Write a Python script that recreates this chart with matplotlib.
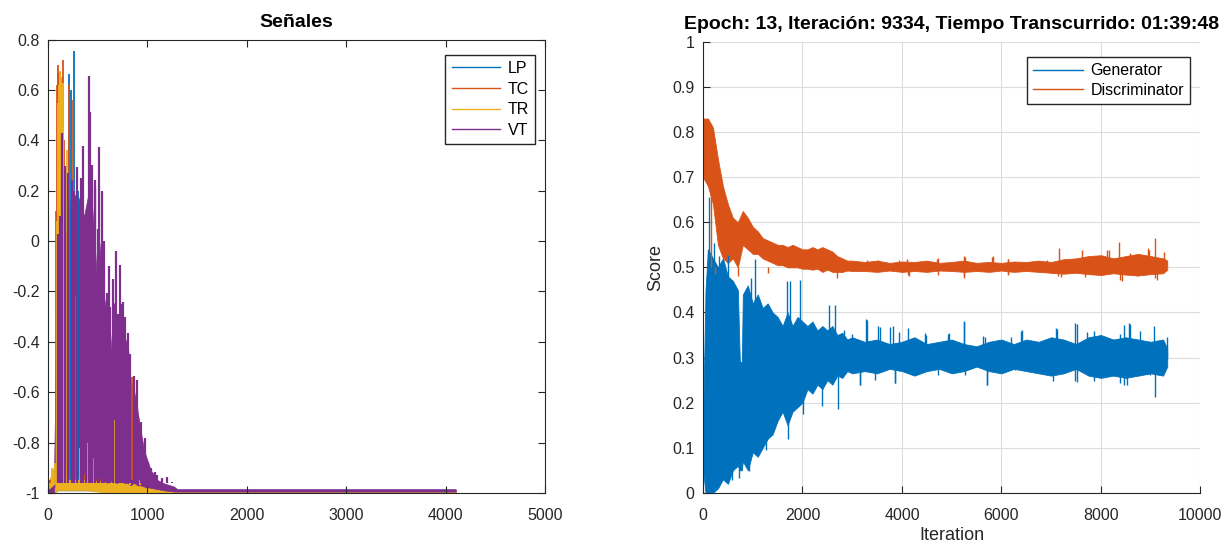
import numpy as np
import matplotlib
matplotlib.use("Agg")
import matplotlib.pyplot as plt

plt.rcParams['font.family'] = ['Liberation Sans', 'DejaVu Sans']
plt.rcParams['axes.unicode_minus'] = False

# ---- left panel: signals (band = dense core, spikes = tall strokes) ----
LP_x = [0, 60, 100, 400, 800, 1000, 1100, 4100]
LP_hi = [-0.98, -0.95, -0.9, -0.9, -0.92, -0.95, -0.99, -0.99]
LP_lo = [-1.0, -1.0, -0.99, -0.99, -1.0, -1.0, -1.0, -1.0]
LP_spk_x = [150, 211, 231, 262, 305, 330, 540, 720]
LP_spk_y = [0.1, 0.664, 0.6, 0.754, 0.2, -0.1, -0.9, -0.92]

TC_x = [0, 50, 80, 300, 600, 900, 1000, 1100, 4100]
TC_hi = [-0.96, -0.92, -0.85, -0.85, -0.88, -0.92, -0.97, -0.99, -0.99]
TC_lo = [-1.0, -1.0, -0.97, -0.97, -0.98, -0.99, -1.0, -1.0, -1.0]
TC_spk_x = [20, 77, 92, 98, 104, 110, 128, 140, 148, 160, 171, 215, 255, 272, 355, 433, 540,
            590, 724, 841, 892]
TC_spk_y = [-0.96, 0.12, 0.62, 0.7, 0.667, 0.5, 0.55, 0.65, 0.72, 0.4, 0.24, 0.62, 0.56, -0.22,
            -0.54, -0.62, -0.8, -0.72, -0.76, -0.54, -0.84]

TR_x = [0, 60, 100, 250, 400, 600, 900, 1050, 1200, 4100]
TR_hi = [-0.97, -0.9, -0.92, -0.94, -0.95, -0.955, -0.96, -0.975, -0.99, -0.99]
TR_lo = [-1.0, -1.0, -0.99, -0.99, -0.99, -1.0, -1.0, -1.0, -1.0, -1.0]
TR_spk_x = [37, 70, 87, 105, 112, 118, 120, 125, 131, 140, 147, 154, 160, 165, 188, 255, 322,
            389, 456, 624, 674, 724, 825, 926]
TR_spk_y = [-0.9, -0.88, 0.08, 0.55, 0.62, 0.67, 0.674, 0.5, 0.65, 0.6, 0.45, 0.63, 0.3, 0.2,
            0.36, -0.84, -0.82, -0.8, -0.86, -0.86, -0.71, -0.87, -0.92, -0.95]

VT_x = [0, 60, 94, 161, 228, 295, 362, 429, 463, 496, 530, 563, 597, 631, 664, 698, 731, 765,
        798, 832, 865, 899, 932, 966, 1033, 1100, 1167, 1268, 1300, 4100]
VT_hi = [-0.99, -0.97, -0.087, -0.035, 0.164, 0.19, 0.098, 0.23, 0.032, -0.167, -0.008, -0.22,
         -0.3, -0.432, -0.246, -0.326, -0.26, -0.432, -0.379, -0.565, -0.591, -0.67, -0.75,
         -0.83, -0.909, -0.949, -0.962, -0.975, -0.985, -0.985]
VT_lo = [-1.0, -1.0, -0.85, -0.88, -0.9, -0.93, -0.92, -0.94, -0.93, -0.95, -0.94, -0.95, -0.96,
         -0.95, -0.96, -0.96, -0.95, -0.96, -0.96, -0.97, -0.96, -0.97, -0.97, -0.975, -0.98,
         -0.985, -0.99, -0.995, -0.995, -0.995]
VT_spk_x = [104, 120, 138, 170, 205, 238, 260, 288, 330, 355, 380, 412, 422, 439, 470, 473, 500,
            516, 540, 560, 590, 610, 624, 650, 684, 708, 724, 740, 758, 780, 801, 830, 869, 892,
            900, 940, 976, 1010, 1040, 1077, 1100, 1150, 1194, 1244]
VT_spk_y = [0.03, 0.1, 0.429, 0.3, 0.27, 0.244, 0.2, 0.296, 0.25, 0.379, 0.1, 0.657, 0.511, 0.303,
            0.22, 0.244, 0.05, 0.372, 0.2, 0.0, -0.207, -0.1, -0.26, -0.15, -0.041, -0.29, -0.096,
            -0.25, -0.24, -0.3, -0.366, -0.45, -0.536, -0.66, -0.55, -0.72, -0.783, -0.876, -0.9,
            -0.916, -0.93, -0.94, -0.936, -0.956]

# ---- right panel: training scores ----
G_x = [0, 50, 100, 200, 300, 400, 500, 600, 700, 740, 780, 800, 900, 1000, 1100, 1200, 1300,
       1400, 1500, 1600, 1700, 1800, 1900, 2000, 2100, 2200, 2300, 2400, 2500, 2600, 2700, 2800,
       2900, 3000, 3250, 3500, 3750, 4000, 4250, 4500, 4750, 5000, 5250, 5500, 5750, 6000, 6250,
       6500, 6750, 7000, 7250, 7500, 7750, 8000, 8250, 8500, 8750, 9000, 9250, 9334]
G_hi = [0.15, 0.45, 0.54, 0.52, 0.5, 0.52, 0.48, 0.47, 0.45, 0.29, 0.29, 0.44, 0.46, 0.42, 0.44,
        0.41, 0.42, 0.40, 0.39, 0.37, 0.40, 0.37, 0.39, 0.38, 0.37, 0.38, 0.36, 0.37, 0.36, 0.37,
        0.35, 0.355, 0.34, 0.345, 0.335, 0.34, 0.33, 0.335, 0.345, 0.33, 0.335, 0.34, 0.33, 0.325,
        0.335, 0.34, 0.33, 0.34, 0.335, 0.345, 0.34, 0.33, 0.345, 0.35, 0.34, 0.345, 0.34, 0.335,
        0.34, 0.32]
G_lo = [0.05, 0.0, 0.0, 0.0, 0.01, 0.03, 0.02, 0.05, 0.06, 0.05, 0.05, 0.07, 0.05, 0.09, 0.08,
        0.10, 0.12, 0.13, 0.16, 0.18, 0.15, 0.18, 0.19, 0.20, 0.23, 0.22, 0.24, 0.23, 0.25, 0.24,
        0.26, 0.255, 0.27, 0.265, 0.27, 0.265, 0.275, 0.27, 0.26, 0.27, 0.275, 0.265, 0.27, 0.28,
        0.27, 0.265, 0.275, 0.27, 0.265, 0.26, 0.265, 0.275, 0.26, 0.255, 0.26, 0.255, 0.26, 0.265,
        0.26, 0.28]
# upward strokes of the generator (from 0.3 up to the value)
G_up_x = [98, 130, 211, 324, 512, 964, 1039, 1679, 1755, 1943, 2530, 2658, 2831, 3000, 3276,
          3300, 3524, 3566, 3766, 3825, 3933, 4126, 4467, 4488, 4934, 4955, 5254, 5256, 5633,
          5667, 6200, 6400, 6423, 7100, 7115, 7477, 7520, 7718, 7852, 8388, 8456, 8569, 8592,
          8790, 9058, 9326]
G_up_y = [0.538, 0.657, 0.554, 0.525, 0.527, 0.477, 0.519, 0.469, 0.469, 0.473, 0.416, 0.417,
          0.362, 0.353, 0.385, 0.383, 0.37, 0.367, 0.367, 0.37, 0.356, 0.366, 0.354, 0.35, 0.353,
          0.354, 0.378, 0.381, 0.348, 0.345, 0.345, 0.36, 0.362, 0.366, 0.364, 0.377, 0.374,
          0.356, 0.36, 0.353, 0.373, 0.377, 0.374, 0.36, 0.37, 0.345]
# downward strokes of the generator (from 0.3 down to the value)
G_dn_x = [587, 723, 926, 1265, 1717, 2018, 2395, 2718, 3148, 3166, 3466, 3863, 3866, 4733, 5267,
          5700, 5708, 6267, 7035, 7477, 7517, 7852, 8388, 8471, 8525, 8991, 9096]
G_dn_y = [0.028, 0.032, 0.048, 0.094, 0.12, 0.174, 0.193, 0.186, 0.239, 0.24, 0.251, 0.243, 0.244,
          0.262, 0.262, 0.24, 0.239, 0.273, 0.247, 0.247, 0.245, 0.247, 0.244, 0.239, 0.24, 0.262,
          0.212]

D_x = G_x[:8] + [700, 800] + G_x[12:-1] + [9334]
D_hi = [0.83, 0.83, 0.83, 0.81, 0.74, 0.68, 0.64, 0.61, 0.6, 0.625, 0.61, 0.59, 0.58, 0.565,
        0.56, 0.555, 0.55, 0.55, 0.545, 0.55, 0.545, 0.54, 0.54, 0.545, 0.54, 0.545, 0.54, 0.535,
        0.525, 0.52, 0.515, 0.515, 0.512, 0.515, 0.51, 0.513, 0.512, 0.515, 0.51, 0.512, 0.515,
        0.51, 0.512, 0.51, 0.513, 0.512, 0.515, 0.512, 0.518, 0.52, 0.525, 0.527, 0.52, 0.525,
        0.53, 0.525, 0.52, 0.515]
D_lo = [0.7, 0.69, 0.68, 0.64, 0.55, 0.52, 0.51, 0.52, 0.5, 0.55, 0.54, 0.53, 0.53, 0.52, 0.515,
        0.51, 0.505, 0.505, 0.5, 0.5, 0.5, 0.497, 0.497, 0.495, 0.497, 0.49, 0.495, 0.49, 0.49,
        0.49, 0.493, 0.492, 0.492, 0.49, 0.493, 0.49, 0.492, 0.49, 0.493, 0.492, 0.49, 0.492,
        0.49, 0.493, 0.49, 0.492, 0.49, 0.488, 0.486, 0.488, 0.485, 0.483, 0.487, 0.484, 0.482,
        0.485, 0.487, 0.495]
D_up_x = [160, 3300, 3524, 3933, 4111, 4700, 4729, 5241, 5267, 5814, 5821, 6122, 6134, 6914,
          7154, 7628, 7967, 8120, 8155, 8358, 8589, 8945, 8958, 9082, 9259]
D_up_y = [0.7, 0.516, 0.517, 0.516, 0.519, 0.519, 0.521, 0.525, 0.524, 0.524, 0.525, 0.519, 0.519,
          0.516, 0.544, 0.538, 0.523, 0.538, 0.538, 0.557, 0.531, 0.542, 0.538, 0.565, 0.535]
D_dn_x = [250, 700, 1303, 2696, 4126, 4133, 4733, 5241, 5254, 6122, 6134, 7138, 7195, 7688, 8380,
          8422, 8723, 9082, 9125]
D_dn_y = [0.485, 0.48, 0.488, 0.477, 0.482, 0.48, 0.482, 0.481, 0.476, 0.485, 0.484, 0.481, 0.478,
          0.478, 0.473, 0.469, 0.48, 0.477, 0.473]

colors = {'LP': '#0072BD', 'TC': '#D95319', 'TR': '#EDB120', 'VT': '#7E2F8E'}
txt = '#262626'

fig = plt.figure(figsize=(12.28, 5.44), dpi=100)
ax1 = fig.add_axes([0.039, 0.094, 0.405, 0.833])
ax2 = fig.add_axes([0.5725, 0.094, 0.405, 0.829])

signals = [('LP', LP_x, LP_lo, LP_hi, LP_spk_x, LP_spk_y, -0.95, 1.3),
           ('TC', TC_x, TC_lo, TC_hi, TC_spk_x, TC_spk_y, -0.95, 1.3),
           ('TR', TR_x, TR_lo, TR_hi, TR_spk_x, TR_spk_y, -0.97, 1.3),
           ('VT', VT_x, VT_lo, VT_hi, VT_spk_x, VT_spk_y, -0.96, 1.6)]
for name, x, lo, hi, sx, sy, base, w in signals:
    c = colors[name]
    ax1.fill_between(x, lo, hi, color=c, lw=0.5)
    ax1.vlines(sx, base, sy, color=c, lw=w)
    ax1.plot([], [], color=c, lw=1.0, label=name)

ax1.set_xlim(0, 5000)
ax1.set_ylim(-1, 0.8)
ax1.set_yticks(np.arange(-1, 0.81, 0.2))
ax1.set_yticklabels(['-1', '-0.8', '-0.6', '-0.4', '-0.2', '0', '0.2', '0.4', '0.6', '0.8'])
ax1.set_xticks([0, 1000, 2000, 3000, 4000, 5000])
ax1.tick_params(direction='in', top=True, right=True, labelsize=11.5, colors=txt, length=5)
ax1.tick_params(axis='x', pad=11)
ax1.tick_params(axis='y', pad=6)
ax1.set_title('Señales', fontsize=14, fontweight='bold', pad=9)
ax1.legend(loc='upper right', bbox_to_anchor=(0.98, 0.967), borderaxespad=0, fontsize=11.5,
           fancybox=False, edgecolor='#262626', handlelength=3.0, handletextpad=0.5,
           labelspacing=0.35, framealpha=1)

for x, lo, hi, ux, uy, dx, dy, base, c, lab in [
        (G_x, G_lo, G_hi, G_up_x, G_up_y, G_dn_x, G_dn_y, 0.3, colors['LP'], 'Generator'),
        (D_x, D_lo, D_hi, D_up_x, D_up_y, D_dn_x, D_dn_y, 0.5, colors['TC'], 'Discriminator')]:
    ax2.fill_between(x, lo, hi, color=c, lw=0.6)
    ax2.vlines(ux, base, uy, color=c, lw=1.0)
    ax2.vlines(dx, dy, base, color=c, lw=1.0)
    ax2.plot([], [], color=c, lw=1.0, label=lab)

ax2.set_xlim(0, 10000)
ax2.set_ylim(0, 1)
ax2.set_yticks(np.arange(0, 1.01, 0.1))
ax2.set_yticklabels(['0', '0.1', '0.2', '0.3', '0.4', '0.5', '0.6', '0.7', '0.8', '0.9', '1'])
ax2.set_xticks([0, 2000, 4000, 6000, 8000, 10000])
ax2.grid(True, color='#DCDCDC', lw=0.8)
ax2.set_axisbelow(True)
ax2.spines['top'].set_visible(False)
ax2.spines['right'].set_visible(False)
ax2.tick_params(direction='in', labelsize=11.5, colors=txt, length=5)
ax2.tick_params(axis='x', pad=11)
ax2.tick_params(axis='y', pad=6)
ax2.set_title('Epoch: 13, Iteración: 9334, Tiempo Transcurrido: 01:39:48',
              fontsize=14, fontweight='bold', pad=9)
ax2.set_xlabel('Iteration', fontsize=13, color=txt, labelpad=3)
ax2.set_ylabel('Score', fontsize=13, color=txt, labelpad=6)
ax2.legend(loc='upper right', bbox_to_anchor=(0.98, 0.967), borderaxespad=0, fontsize=11.5,
           fancybox=False, edgecolor='#262626', handlelength=3.1, handletextpad=0.5,
           labelspacing=0.3, framealpha=1)

for ax in (ax1, ax2):
    for s in ax.spines.values():
        s.set_color(txt)

fig.savefig('out.png', dpi=100)
